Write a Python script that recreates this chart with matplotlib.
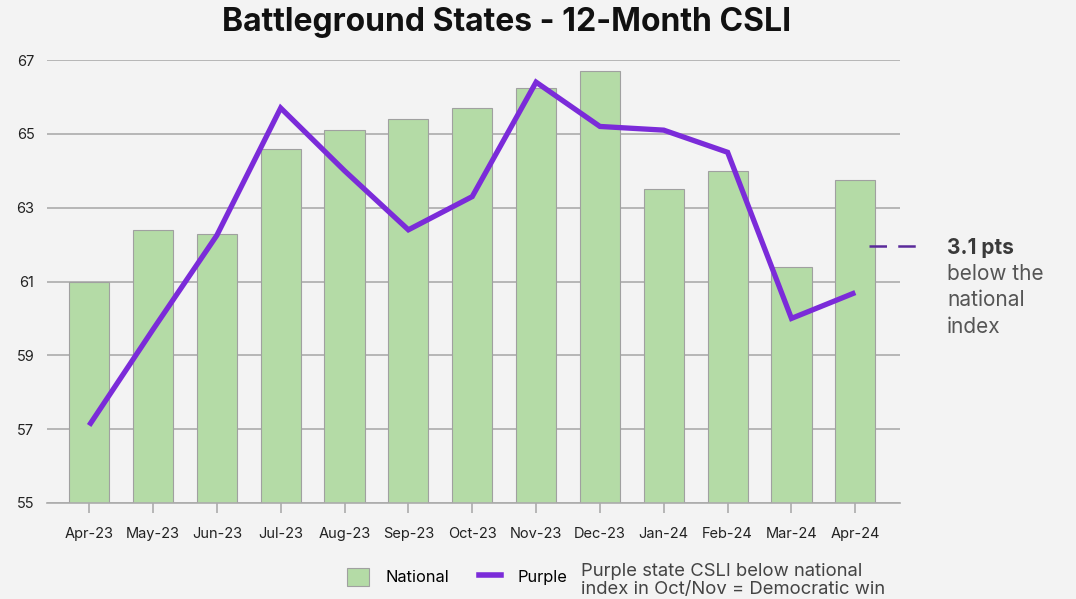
import matplotlib
matplotlib.use("Agg")
import matplotlib.pyplot as plt
from matplotlib.patches import Patch
from matplotlib.lines import Line2D

months = ["Apr-23", "May-23", "Jun-23", "Jul-23", "Aug-23", "Sep-23", "Oct-23",
          "Nov-23", "Dec-23", "Jan-24", "Feb-24", "Mar-24", "Apr-24"]
national = [61.0, 62.4, 62.3, 64.6, 65.1, 65.4, 65.7, 66.25, 66.7, 63.5, 64.0, 61.4, 63.75]
purple = [57.1, 59.7, 62.25, 65.7, 64.0, 62.4, 63.3, 66.4, 65.2, 65.1, 64.5, 60.0, 60.7]
yticks = [55, 57, 59, 61, 63, 65, 67]
annot_y = 61.95

plt.rcParams['font.family'] = ['Inter', 'DejaVu Sans']
bg = "#f3f3f3"
fig = plt.figure(figsize=(10.76, 5.99), dpi=100, facecolor=bg)
ax = fig.add_axes([47/1076, 1-503/599, (900-47)/1076, (503-60)/599])
ax.set_facecolor(bg)

x = list(range(len(months)))
ax.bar(x, national, width=0.63, bottom=0, color="#b4dba6", edgecolor="#a0a0a0",
       linewidth=0.8, zorder=2)
ax.plot(x, purple, color="#7b2bd9", linewidth=3.8, solid_joinstyle='miter',
        solid_capstyle='butt', zorder=3)

ax.set_ylim(55, 67)
ax.set_xlim(-0.66, 12.7)
ax.set_yticks(yticks)
ax.set_xticks(x)
ax.set_xticklabels(months)
ax.grid(axis='y', color="#ababab", linewidth=1.2, zorder=1)
ax.set_axisbelow(True)
for s in ['top', 'right', 'left']:
    ax.spines[s].set_visible(False)
ax.spines['bottom'].set_color("#ababab")
ax.spines['bottom'].set_linewidth(1.2)
ax.spines['bottom'].set_zorder(4)
ax.tick_params(axis='y', length=0, pad=9, labelsize=10.5, labelcolor="#222222")
ax.tick_params(axis='x', length=7, width=1.2, color="#ababab", pad=10,
               labelsize=10.5, labelcolor="#222222")

# annotation
ax.plot([12.22, 13.02], [annot_y, annot_y], color="#5a2a9a", linewidth=1.8,
        linestyle=(0, (7, 4.5)), clip_on=False, zorder=5)
fig.text(947/1076, 1-248/599, "3.1 pts", fontsize=15, fontweight='bold',
         color="#3a3a3a", va='center', ha='left')
fig.text(947/1076, 1-300.5/599, "below the\nnational\nindex", fontsize=15,
         color="#555555", va='center', ha='left', linespacing=1.38)

fig.text(507/1076, 1-22/599, "Battleground States - 12-Month CSLI", fontsize=23,
         fontweight='bold', ha='center', va='center', color="#111111")

handles = [Patch(facecolor="#b4dba6", edgecolor="#a0a0a0", linewidth=0.8, label="National"),
           Line2D([0], [0], color="#7b2bd9", linewidth=4, label="Purple")]
fig.legend(handles=handles, loc='center', bbox_to_anchor=(457/1076, 1-577/599),
           ncol=2, frameon=False, fontsize=11.8, handlelength=1.35, handleheight=1.4,
           columnspacing=1.8, handletextpad=1.0, borderpad=0, borderaxespad=0)
fig.text(581/1076, 1-580.5/599, "Purple state CSLI below national\nindex in Oct/Nov = Democratic win",
         fontsize=13.3, color="#444444", va='center', ha='left', linespacing=1.0)

fig.savefig("out.png", dpi=100, facecolor=bg)
